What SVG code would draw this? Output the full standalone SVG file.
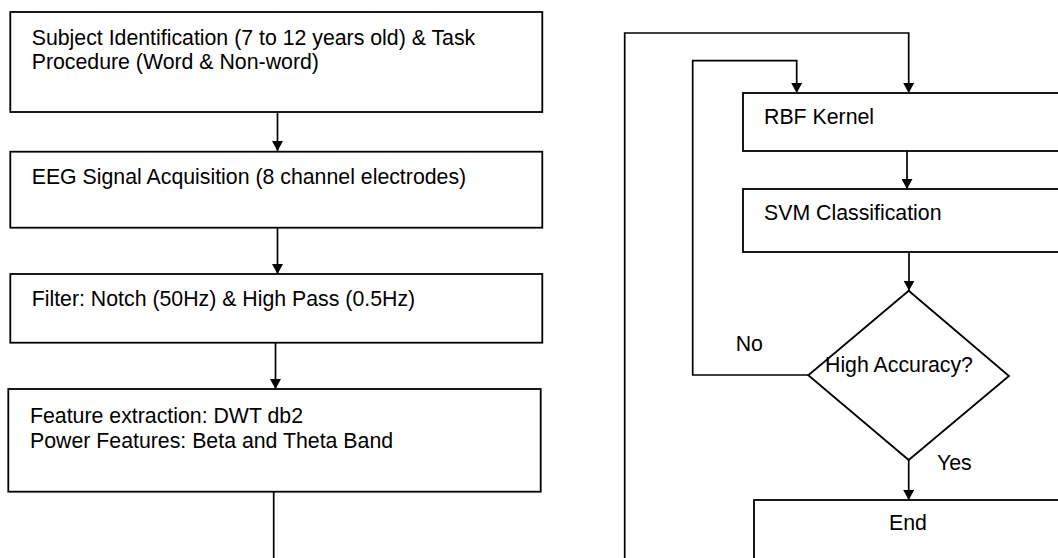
<svg xmlns="http://www.w3.org/2000/svg" width="1058" height="558" viewBox="0 0 1058 558">
<style>
.box{fill:#fff;stroke:#000;stroke-width:1.8}
.con{fill:none;stroke:#000;stroke-width:1.7}
.t{font-family:"Liberation Sans",Arial,sans-serif;font-size:21.3px;fill:#000}
</style>
<defs>
<marker id="arr" markerUnits="userSpaceOnUse" markerWidth="10" markerHeight="11" refX="10" refY="5.5" orient="auto">
<path d="M0,0 L10,5.5 L0,11 z" fill="#000"/>
</marker>
</defs>
<rect width="1058" height="558" fill="#fff"/>
<g id="connectors">
<path class="con" d="M277.5,112 V151" marker-end="url(#arr)"/>
<path class="con" d="M277.5,228 V274" marker-end="url(#arr)"/>
<path class="con" d="M275.5,343 V389" marker-end="url(#arr)"/>
<path class="con" d="M273.7,492 V560"/>
<path class="con" d="M624.7,560 V33 H908.7 V93" marker-end="url(#arr)"/>
<path class="con" d="M808.3,375 H692.7 V60.7 H796.7 V93" marker-end="url(#arr)"/>
<path class="con" d="M907,151 V189" marker-end="url(#arr)"/>
<path class="con" d="M909,252 V290.7" marker-end="url(#arr)"/>
<path class="con" d="M908.7,460 V500" marker-end="url(#arr)"/>
</g>
<g id="subject">
<rect class="box" x="10.3" y="12" width="532" height="100"/>
<text class="t" x="31.7" y="44.8">Subject Identification (7 to 12 years old) &amp; Task</text>
<text class="t" x="31.7" y="68.9">Procedure (Word &amp; Non-word)</text>
</g>
<g id="eeg">
<rect class="box" x="10.3" y="151.7" width="532" height="76"/>
<text class="t" x="31.7" y="184">EEG Signal Acquisition (8 channel electrodes)</text>
</g>
<g id="filter">
<rect class="box" x="10.3" y="274" width="532" height="68.7"/>
<text class="t" x="31.7" y="306">Filter: Notch (50Hz) &amp; High Pass (0.5Hz)</text>
</g>
<g id="feature">
<rect class="box" x="8.3" y="389" width="532.4" height="102.7"/>
<text class="t" x="30" y="422.5">Feature extraction: DWT db2</text>
<text class="t" x="30" y="447.5">Power Features: Beta and Theta Band</text>
</g>
<g id="rbf">
<rect class="box" x="743" y="93" width="330" height="58"/>
<text class="t" x="764" y="124">RBF Kernel</text>
</g>
<g id="svm">
<rect class="box" x="743" y="189" width="330" height="63"/>
<text class="t" x="764" y="220">SVM Classification</text>
</g>
<g id="decision">
<polygon class="box" points="908.7,290.7 1009,376 908.7,460 808.3,375.3"/>
<text class="t" x="825" y="371.7">High Accuracy?</text>
</g>
<g id="labels">
<text class="t" x="735.7" y="351">No</text>
<text class="t" x="937" y="470">Yes</text>
</g>
<g id="end">
<rect class="box" x="754" y="500" width="320" height="80"/>
<text class="t" x="908" y="530" text-anchor="middle">End</text>
</g>
</svg>
